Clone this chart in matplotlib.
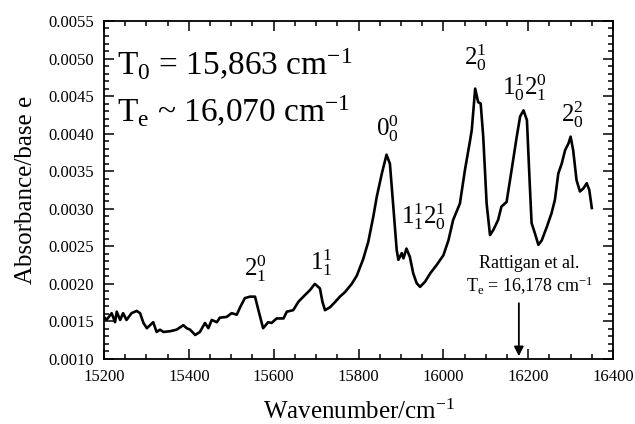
import matplotlib
matplotlib.use('Agg')
import matplotlib.pyplot as plt
from matplotlib.ticker import MultipleLocator

# Spectrum
wavenumber = [15200, 15206, 15218, 15226, 15230, 15238, 15245, 15253, 15265, 15277,
              15285, 15293, 15301, 15316, 15324, 15332, 15340, 15356, 15371, 15387,
              15395, 15403, 15415, 15426, 15438, 15446, 15454, 15466, 15473, 15489,
              15501, 15513, 15521, 15532, 15544, 15556, 15564, 15575, 15587, 15595,
              15607, 15623, 15631, 15646, 15658, 15670, 15686, 15697, 15709, 15715,
              15721, 15733, 15745, 15756, 15768, 15784, 15796, 15811, 15823, 15835,
              15843, 15855, 15866, 15874, 15882, 15890, 15894, 15902, 15906, 15913,
              15921, 15929, 15937, 15945, 15957, 15969, 15984, 16000, 16012, 16023,
              16039, 16051, 16063, 16067, 16075, 16082, 16088, 16094, 16102, 16110,
              16118, 16129, 16137, 16149, 16161, 16173, 16181, 16189, 16197, 16204,
              16208, 16216, 16224, 16232, 16244, 16255, 16263, 16271, 16279, 16287,
              16295, 16300, 16306, 16314, 16322, 16330, 16338, 16344, 16350]
absorbance = [0.00156, 0.00152, 0.00161, 0.00149, 0.00163, 0.00152, 0.00161, 0.00152, 0.00161, 0.00164,
              0.00161, 0.00148, 0.00141, 0.00149, 0.00136, 0.00139, 0.00136, 0.00137, 0.00139, 0.00145,
              0.00141, 0.00139, 0.00132, 0.00136, 0.00148, 0.00141, 0.00152, 0.00149, 0.00155, 0.00156,
              0.00161, 0.00159, 0.00169, 0.00181, 0.00183, 0.00183, 0.00165, 0.00141, 0.00149, 0.00148,
              0.00154, 0.00154, 0.00163, 0.00165, 0.00176, 0.00183, 0.00192, 0.00200, 0.00194, 0.00176,
              0.00165, 0.00169, 0.00176, 0.00183, 0.00189, 0.00200, 0.00211, 0.00233, 0.00256, 0.00290,
              0.00316, 0.00347, 0.00372, 0.00360, 0.00303, 0.00245, 0.00232, 0.00241, 0.00234, 0.00247,
              0.00236, 0.00214, 0.00201, 0.00196, 0.00203, 0.00214, 0.00225, 0.00238, 0.00258, 0.00285,
              0.00307, 0.00352, 0.00391, 0.00405, 0.00460, 0.00442, 0.00440, 0.00396, 0.00307, 0.00265,
              0.00272, 0.00285, 0.00303, 0.00309, 0.00352, 0.00396, 0.00423, 0.00431, 0.00418, 0.00329,
              0.00281, 0.00267, 0.00252, 0.00258, 0.00276, 0.00294, 0.00312, 0.00347, 0.00360, 0.00378,
              0.00387, 0.00396, 0.00378, 0.00338, 0.00323, 0.00327, 0.00334, 0.00325, 0.00301]

# Band assignments and where they sit
band_labels = [r'$2^0_1$', r'$1^1_1$', r'$0^0_0$', r'$1^1_1 2^1_0$',
               r'$2^1_0$', r'$1^1_0 2^0_1$', r'$2^2_0$']
band_x = [15556, 15712, 15867, 15954, 16075, 16192, 16303]
band_y = [0.00221, 0.00229, 0.00407, 0.00289, 0.00502, 0.00462, 0.00425]

rattigan_te = 16178

plt.rcParams['font.family'] = ['Liberation Serif', 'DejaVu Serif']
plt.rcParams['mathtext.fontset'] = 'custom'
plt.rcParams['mathtext.rm'] = 'Liberation Serif'
plt.rcParams['mathtext.it'] = 'Liberation Serif:italic'
plt.rcParams['mathtext.default'] = 'rm'

fig = plt.figure(figsize=(6.35, 4.24), dpi=100)
ax = fig.add_axes([0.1638, 0.1533, 0.8016, 0.7972])

ax.plot(wavenumber, absorbance, color='black', linewidth=1.9)

ax.set_xlim(15200, 16400)
ax.set_ylim(0.0010, 0.0055)
ax.xaxis.set_major_locator(MultipleLocator(200))
ax.xaxis.set_minor_locator(MultipleLocator(50))
ax.yaxis.set_major_locator(MultipleLocator(0.0005))
ax.yaxis.set_minor_locator(MultipleLocator(0.0001))
ax.yaxis.set_major_formatter(plt.FormatStrFormatter('%.4f'))
ax.tick_params(which='both', direction='in', top=True, right=True, labelsize=12, width=1.1)
ax.tick_params(which='major', length=7)
ax.tick_params(which='minor', length=3.5)
ax.tick_params(axis='x', pad=7)
ax.tick_params(axis='y', pad=7)
for s in ax.spines.values():
    s.set_linewidth(1.3)

ax.set_xlabel(r'Wavenumber/cm$^{-1}$', fontsize=18, labelpad=11)
ax.set_ylabel('Absorbance/base e', fontsize=18, labelpad=8)

ax.text(15231, 0.00478, r'T$_0$ = 15,863 cm$^{-1}$', fontsize=24, va='baseline')
ax.text(15231, 0.00415, r'T$_e$ ~ 16,070 cm$^{-1}$', fontsize=24, va='baseline')

for lab, x, y in zip(band_labels, band_x, band_y):
    ax.text(x, y, lab, fontsize=18, ha='center', va='center')

ax.text(rattigan_te + 25, 0.00227, 'Rattigan et al.', fontsize=13, ha='center', va='center')
ax.text(rattigan_te + 25, 0.00197, r'T$_e$ = 16,178 cm$^{-1}$', fontsize=13, ha='center', va='center')
ax.annotate('', xy=(rattigan_te, 0.0010), xytext=(rattigan_te, 0.00178),
            arrowprops=dict(arrowstyle='-|>', color='black', lw=1.3, mutation_scale=14))

fig.savefig('out.png', dpi=100)
